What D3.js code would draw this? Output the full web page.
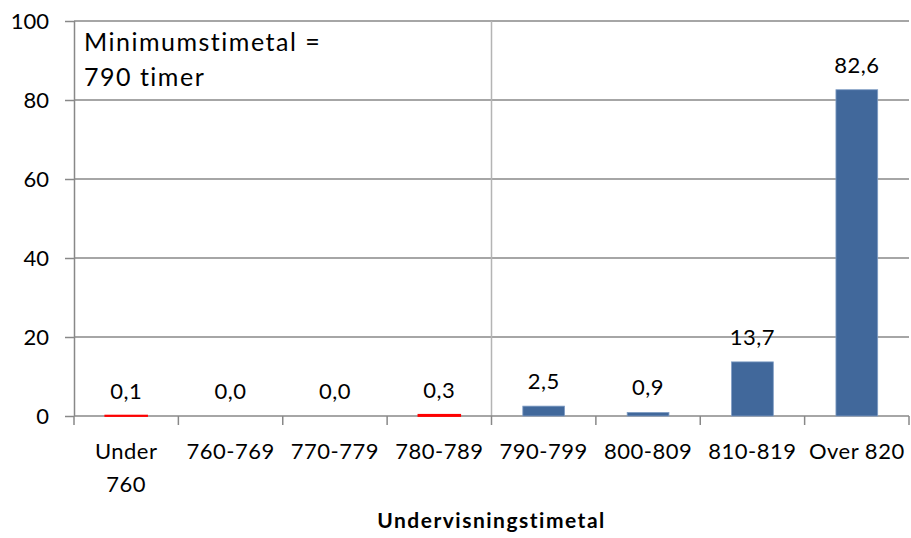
<!DOCTYPE html>
<html>
<head>
<meta charset="utf-8">
<script src="https://cdnjs.cloudflare.com/ajax/libs/d3/7.8.5/d3.min.js"></script>
<style>
  body { margin: 0; background: #fff; }
  text { font-family: Lato, "Open Sans", sans-serif; fill: #000; }
</style>
</head>
<body>
<script>
// chart data
const categories = ['Under 760', '760-769', '770-779', '780-789', '790-799', '800-809', '810-819', 'Over 820'];
const values = [0.1, 0.0, 0.0, 0.3, 2.5, 0.9, 13.7, 82.6];
const labels = ['0,1', '0,0', '0,0', '0,3', '2,5', '0,9', '13,7', '82,6'];
const belowMinimum = [true, true, true, true, false, false, false, false];
const yTicks = [0, 20, 40, 60, 80, 100];
const xTitle = 'Undervisningstimetal';
const noteLines = ['Minimumstimetal =', '790 timer'];
const dividerAfter = '780-789';

const width = 911, height = 538;
const margin = {left: 74, right: 2, top: 21, bottom: 122};
const innerW = width - margin.left - margin.right,
	innerH = height - margin.top - margin.bottom;

const svg = d3.select('body').append('svg')
	.attr('width', width)
	.attr('height', height);

const g = svg.append('g')
	.attr('transform', 'translate(' + margin.left + ',' + margin.top + ')');

const x = d3.scaleBand()
	.domain(categories)
	.range([0, innerW])
	.paddingInner(0.6)
	.paddingOuter(0.3);

const y = d3.scaleLinear()
	.domain([0, 100])
	.range([innerH, 0]);

const grey = '#888';

// horizontal gridlines
g.append('g')
	.selectAll('line')
	.data(yTicks.filter(d => d > 0))
	.join('line')
	.attr('x1', 0)
	.attr('x2', innerW)
	.attr('y1', d => y(d))
	.attr('y2', d => y(d))
	.attr('stroke', grey)
	.attr('stroke-width', 1.5);

// divider between below and above the minimum
const xb = x.step();
const divX = (categories.indexOf(dividerAfter) + 1) * xb;
g.append('line')
	.attr('x1', divX).attr('x2', divX)
	.attr('y1', y(100)).attr('y2', y(0))
	.attr('stroke', '#b4b4b4')
	.attr('stroke-width', 1.5);

// y axis
const yAxis = d3.axisLeft(y).tickValues(yTicks).tickSize(9).tickPadding(16);
const gY = g.append('g').call(yAxis);
gY.select('.domain').attr('stroke', grey).attr('stroke-width', 1.5)
	.attr('d', 'M0.5,' + y(0) + 'V' + y(100));
gY.selectAll('.tick line').attr('stroke', grey).attr('stroke-width', 1.5);
gY.selectAll('.tick text')
	.style('font-family', 'Lato, sans-serif')
	.style('font-size', '22px')
	.attr('fill', '#000');

// x axis with ticks on band boundaries
g.append('line')
	.attr('x1', 0).attr('x2', innerW)
	.attr('y1', y(0)).attr('y2', y(0))
	.attr('stroke', grey).attr('stroke-width', 1.5);

g.append('g')
	.selectAll('line')
	.data(d3.range(categories.length + 1))
	.join('line')
	.attr('x1', i => i * xb)
	.attr('x2', i => i * xb)
	.attr('y1', y(0))
	.attr('y2', y(0) + 9)
	.attr('stroke', grey)
	.attr('stroke-width', 1.5);

// category labels (wrapped on space when it is "Under 760")
const catLabel = g.append('g')
	.selectAll('text')
	.data(categories)
	.join('text')
	.attr('text-anchor', 'middle')
	.style('font-size', '22px')
	.style('letter-spacing', '0.5px')
	.attr('transform', d => 'translate(' + (x(d) + x.bandwidth() / 2) + ',' + (y(0) + 43) + ')');

catLabel.each(function (d) {
	const lines = d === 'Under 760' ? ['Under', '760'] : [d];
	d3.select(this).selectAll('tspan')
		.data(lines)
		.join('tspan')
		.attr('x', 0)
		.attr('dy', (l, i) => i === 0 ? 0 : 33)
		.text(l => l);
});

// bars
g.append('g')
	.selectAll('rect')
	.data(categories.map((c, i) => ({c, v: values[i], red: belowMinimum[i]})))
	.join('rect')
	.attr('x', d => x(d.c))
	.attr('width', x.bandwidth())
	.attr('y', d => y(d.v))
	.attr('height', d => y(0) - y(d.v))
	.attr('fill', d => d.red ? '#ff0000' : '#41689b')
	.attr('stroke', d => d.v > 0 ? (d.red ? '#ff0000' : '#7f9cc4') : 'none')
	.attr('stroke-width', d => d.red ? 1.8 : 0.8);

// value labels
g.append('g')
	.selectAll('text')
	.data(categories)
	.join('text')
	.attr('x', d => x(d) + x.bandwidth() / 2)
	.attr('y', (d, i) => y(values[i]) - 17)
	.attr('text-anchor', 'middle')
	.style('font-size', '22px')
	.style('letter-spacing', '0.5px')
	.text((d, i) => labels[i]);

// note in top left corner
const note = g.append('text')
	.attr('x', 10)
	.attr('y', 30)
	.style('font-size', '25px')
	.style('letter-spacing', '1.5px');
note.selectAll('tspan')
	.data(noteLines)
	.join('tspan')
	.attr('x', 10)
	.attr('dy', (d, i) => i === 0 ? 0 : 35)
	.text(d => d);

// x axis title
svg.append('text')
	.attr('x', margin.left + innerW / 2)
	.attr('y', 528)
	.attr('text-anchor', 'middle')
	.style('font-size', '21px')
	.style('font-weight', 'bold')
	.style('letter-spacing', '1.5px')
	.text(xTitle);
</script>
</body>
</html>
